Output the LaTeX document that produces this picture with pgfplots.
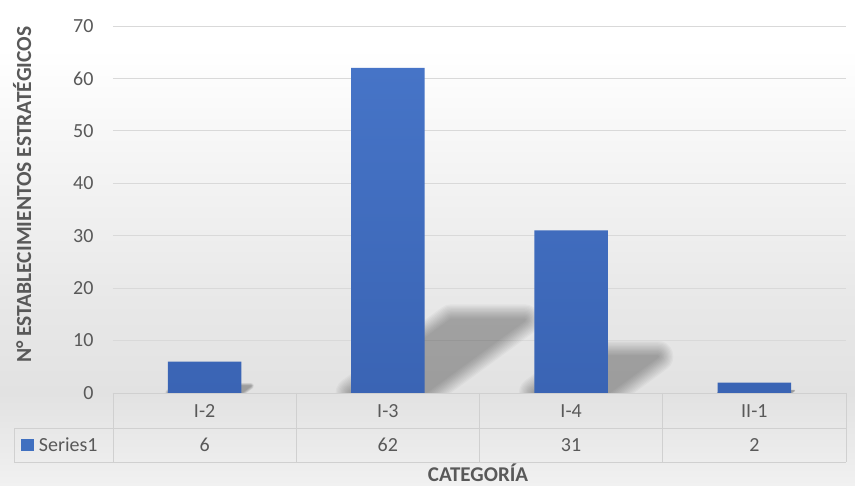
\documentclass[border=0pt]{standalone}
\usepackage{pgfplots}
\pgfplotsset{compat=1.18}
\usepackage{pgfplotstable}
\usepackage{fontspec}
\setmainfont{Carlito}

\definecolor{barTop}{HTML}{4674C7}
\definecolor{barBot}{HTML}{3A64B4}
\definecolor{keyBlue}{HTML}{4070C0}
\definecolor{txtGray}{HTML}{595959}
\definecolor{gridGray}{HTML}{D9D9D9}
\definecolor{tabGray}{HTML}{D0D0D0}
\definecolor{bgLow}{HTML}{F1F1F1}
\definecolor{bgBase}{HTML}{E2E2E2}
\definecolor{bgLower}{HTML}{E8E8E8}
\definecolor{bgMid}{HTML}{F6F6F6}

% soft vertical background: white at the top, grey towards the base line
\pgfdeclareverticalshading{chartbg}{100bp}{%
  color(0bp)=(bgLow); color(25bp)=(bgLow); color(34.5bp)=(bgBase);
  color(44bp)=(bgLower); color(60bp)=(bgMid); color(70bp)=(white);
  color(100bp)=(white)}

\pgfplotstableread{
idx cat val
0 I-2 6
1 I-3 62
2 I-4 31
3 II-1 2
}\datatable

% blurred perspective shadow cast by a bar at position #1 with height #2,
% built from stacked, widening translucent copies of the shadow polygon
\newcommand\barshadow[2]{%
  \pgfmathsetmacro\sxa{#1-0.2}%
  \pgfmathsetmacro\sxb{#1+0.2}%
  \pgfmathsetmacro\sxc{#1+0.2+0.0088*#2}%
  \pgfmathsetmacro\sxd{#1-0.2+0.0088*#2}%
  \pgfmathsetmacro\syt{0.225*#2}%
  \pgfmathsetmacro\ssf{min(1,#2/30)}%
  \edef\shp{(axis cs:\sxa,0) -- (axis cs:\sxb,0) -- (axis cs:\sxc,\syt) -- (axis cs:\sxd,\syt) -- cycle}%
  \gdef\shacc{}%
  \foreach \k in {12,11,...,1}{%
    \pgfmathsetmacro\lw{2.6*\k*\ssf}%
    \xdef\shacc{\unexpanded\expandafter{\shacc}%
      \noexpand\begin{scope}[transparency group, opacity=0.027]%
      \noexpand\filldraw[black, line width=\lw pt, line join=round] \shp;%
      \noexpand\end{scope}}%
  }%
  \shacc}

\begin{document}
\begin{tikzpicture}[x=1pt,y=1pt]
\shade[shading=chartbg] (0,0) rectangle (855,486);
\begin{axis}[
  at={(113pt,93pt)}, anchor=south west,
  scale only axis, width=733pt, height=367pt,
  xmin=-0.5, xmax=3.5, ymin=0, ymax=70,
  ytick={0,10,...,70},
  xtick={0,1,2,3},
  xticklabels from table={\datatable}{cat},
  major tick length=0pt,
  axis line style={draw=none},
  /pgf/number format/assume math mode=true,
  ymajorgrids, grid style={gridGray, line width=0.9pt},
  tick label style={font=\fontsize{20}{24}\selectfont, text=txtGray},
  xticklabel style={anchor=center, yshift=-18pt},
  yticklabel style={xshift=-16pt},
  xlabel={CATEGORÍA},
  ylabel={N° ESTABLECIMIENTOS ESTRATÉGICOS},
  every axis x label/.style={at={(0.498,-0.2415)}, anchor=base, inner sep=0pt,
    font=\bfseries\fontsize{21}{25}\selectfont, text=txtGray},
  every axis y label/.style={at={(-0.124,0.54)}, rotate=90, anchor=center,
    inner sep=0pt, font=\bfseries\fontsize{21.5}{26}\selectfont, text=txtGray},
  clip=false,
]
% shadows behind the bars, kept inside the plot area
\begin{scope}
  \clip (rel axis cs:0,0) rectangle (rel axis cs:1,1);
  \pgfplotsinvokeforeach{0,...,3}{%
    \pgfplotstablegetelem{#1}{val}\of\datatable
    \edef\tmp{\noexpand\barshadow{#1}{\pgfplotsretval}}\tmp
  }
\end{scope}

% bars
\addplot[ybar, bar width=0.4, draw=none, top color=barTop, bottom color=barBot]
  table[x=idx, y=val]{\datatable};

% data table grid
\draw[tabGray, line width=0.9pt] (axis cs:-0.5,0) -- (axis cs:3.5,0);
\draw[tabGray, line width=0.9pt] (axis cs:-1.04,-6.68) -- (axis cs:3.5,-6.68);
\draw[tabGray, line width=0.9pt] (axis cs:-1.04,-13.16) -- (axis cs:3.5,-13.16);
\draw[tabGray, line width=0.9pt] (axis cs:-1.04,-6.68) -- (axis cs:-1.04,-13.16);
\pgfplotsinvokeforeach{-0.5,0.5,1.5,2.5,3.5}{%
  \draw[tabGray, line width=0.9pt] (axis cs:#1,0) -- (axis cs:#1,-13.16);
}

% series row of the data table
\fill[keyBlue] (axis cs:-1.0,-8.8) rectangle (axis cs:-0.93,-11.1);
\node[anchor=west, inner sep=0pt, font=\fontsize{20}{24}\selectfont, text=txtGray]
  at (axis cs:-0.905,-9.93) {Series1};
\addplot[only marks, mark=none, point meta=explicit, nodes near coords,
  every node near coord/.append style={anchor=center,
    font=\fontsize{20}{24}\selectfont, text=txtGray}]
  table[x=idx, y expr=-9.93, meta=val]{\datatable};
\end{axis}
\end{tikzpicture}
\end{document}
